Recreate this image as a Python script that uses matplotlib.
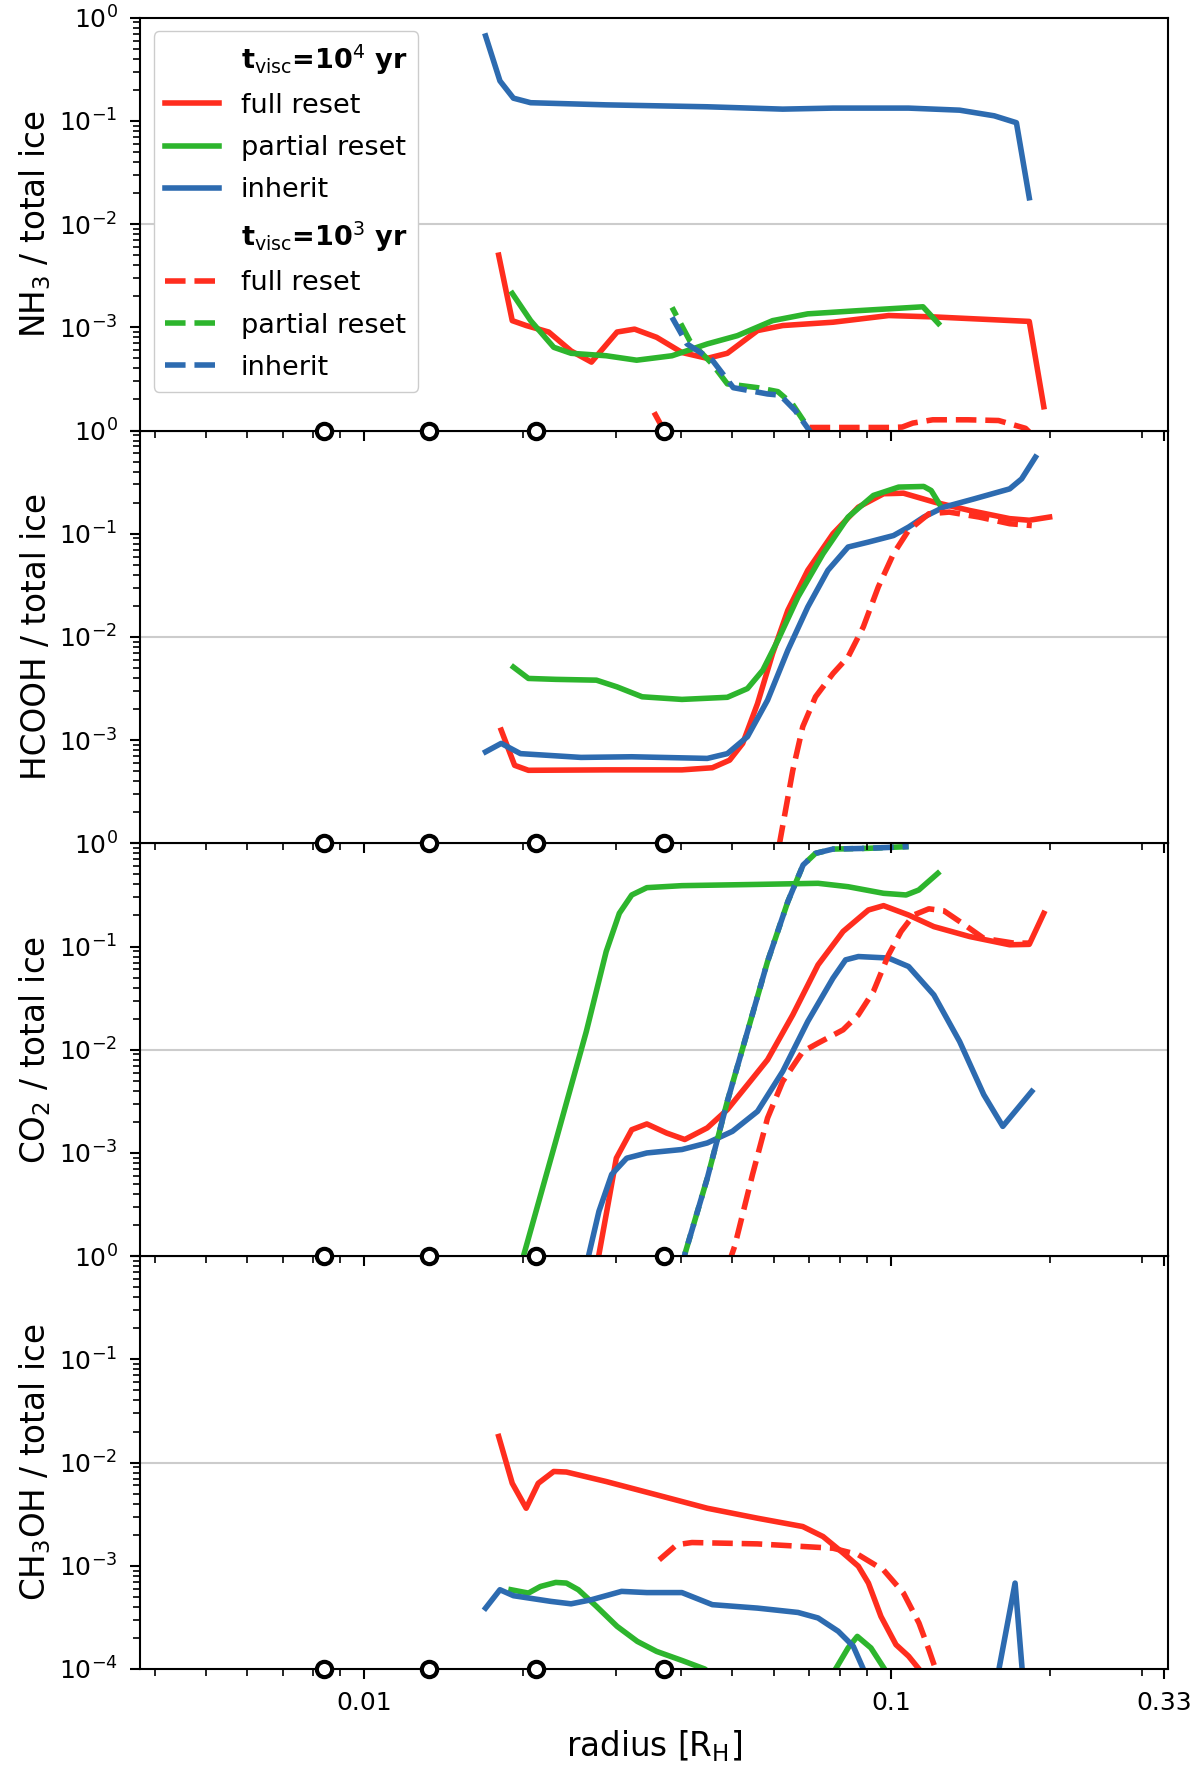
import numpy as np
import matplotlib
matplotlib.use("Agg")
import matplotlib.pyplot as plt
from matplotlib.lines import Line2D
from matplotlib.ticker import LogLocator, NullFormatter

# moon positions (radius in Hill radii)
moons_x = [0.0084, 0.0133, 0.0212, 0.0370]

# ---- NH3 ----
nh3_full_x = [0.0180, 0.0191, 0.0203, 0.0224, 0.0247, 0.0270, 0.0302, 0.0326, 0.0359, 0.0401,
              0.0448, 0.0489, 0.0558, 0.0623, 0.0776, 0.0990, 0.121, 0.183, 0.195]
nh3_full_y = [5.0e-3, 1.16e-3, 1.04e-3, 9.0e-4, 5.9e-4, 4.6e-4, 9.0e-4, 9.6e-4, 8.0e-4, 5.7e-4,
              5.0e-4, 5.6e-4, 9.3e-4, 1.04e-3, 1.12e-3, 1.30e-3, 1.26e-3, 1.14e-3, 1.7e-4]
nh3_part_x = [0.0191, 0.0207, 0.0229, 0.0247, 0.0288, 0.0329, 0.0384, 0.0448, 0.0511, 0.0596,
              0.0695, 0.0867, 0.115, 0.123]
nh3_part_y = [2.13e-3, 1.16e-3, 6.4e-4, 5.6e-4, 5.3e-4, 4.8e-4, 5.3e-4, 6.9e-4, 8.3e-4, 1.16e-3,
              1.35e-3, 1.45e-3, 1.58e-3, 1.09e-3]
nh3_inh_x = [0.0170, 0.0181, 0.0192, 0.0207, 0.0288, 0.0448, 0.0623, 0.0776, 0.108, 0.135,
             0.157, 0.173, 0.183]
nh3_inh_y = [0.665, 0.244, 0.166, 0.150, 0.143, 0.137, 0.130, 0.133, 0.133, 0.127,
             0.112, 0.096, 0.018]
nh3_full3_x = [0.0355, 0.0375, 0.050, 0.068, 0.0700, 0.080, 0.100, 0.105, 0.110, 0.120,
               0.140, 0.160, 0.180, 0.190]
nh3_full3_y = [1.5e-4, 9e-5, 3e-5, 8e-5, 1.07e-4, 1.07e-4, 1.07e-4, 1.08e-4, 1.18e-4, 1.27e-4,
               1.27e-4, 1.25e-4, 1.05e-4, 8e-5]
nh3_part3_x = [0.0384, 0.0415, 0.0458, 0.0489, 0.0558, 0.0610, 0.0650, 0.0695, 0.072]
nh3_part3_y = [1.56e-3, 7.4e-4, 4.4e-4, 2.83e-4, 2.6e-4, 2.38e-4, 1.8e-4, 1.08e-4, 7e-5]
nh3_inh3_x = [0.0384, 0.0410, 0.0458, 0.0502, 0.0583, 0.0616, 0.0658, 0.0700, 0.073]
nh3_inh3_y = [1.25e-3, 6.9e-4, 4.8e-4, 2.6e-4, 2.26e-4, 2.2e-4, 1.56e-4, 1.0e-4, 7e-5]

# ---- HCOOH ----
hcooh_full_x = [0.0182, 0.0193, 0.0205, 0.0288, 0.0401, 0.0458, 0.0494, 0.0523, 0.0558, 0.0596,
                0.0637, 0.0695, 0.0776, 0.0867, 0.0968, 0.1056, 0.121, 0.141, 0.168, 0.183, 0.200]
hcooh_full_y = [1.25e-3, 5.7e-4, 5.1e-4, 5.15e-4, 5.15e-4, 5.4e-4, 6.4e-4, 9.3e-4, 2.26e-3, 6.9e-3,
                1.81e-2, 4.42e-2, 0.100, 0.181, 0.244, 0.247, 0.202, 0.168, 0.140, 0.135, 0.145]
hcooh_part_x = [0.0192, 0.0205, 0.0231, 0.0276, 0.0302, 0.0337, 0.0401, 0.0489, 0.0534, 0.0571,
                0.0610, 0.0666, 0.0743, 0.0829, 0.0926, 0.1034, 0.1154, 0.1192, 0.1246]
hcooh_part_y = [5.1e-3, 3.96e-3, 3.88e-3, 3.81e-3, 3.28e-3, 2.63e-3, 2.48e-3, 2.6e-3, 3.16e-3, 4.76e-3,
                9.3e-3, 2.44e-2, 6.4e-2, 0.145, 0.235, 0.283, 0.287, 0.262, 0.181]
hcooh_inh_x = [0.0170, 0.0182, 0.0198, 0.0258, 0.0322, 0.0448, 0.0489, 0.0534, 0.0583, 0.0637,
               0.0695, 0.0759, 0.0829, 0.0906, 0.1011, 0.108, 0.1154, 0.126, 0.144, 0.168, 0.177, 0.188]
hcooh_inh_y = [7.7e-4, 9.3e-4, 7.4e-4, 6.8e-4, 6.9e-4, 6.65e-4, 7.4e-4, 1.08e-3, 2.44e-3, 7.43e-3,
               1.95e-2, 4.42e-2, 7.43e-2, 8.3e-2, 9.6e-2, 0.116, 0.145, 0.181, 0.218, 0.272, 0.34, 0.552]
hcooh_full3_x = [0.0600, 0.0616, 0.0651, 0.0680, 0.0719, 0.0776, 0.0829, 0.0886, 0.0946, 0.1011,
                 0.108, 0.118, 0.129, 0.147, 0.168, 0.185]
hcooh_full3_y = [5e-5, 1.08e-4, 5.1e-4, 1.35e-3, 2.63e-3, 4.42e-3, 6.4e-3, 1.25e-2, 3.05e-2, 6.4e-2,
                 0.108, 0.156, 0.162, 0.145, 0.125, 0.120]

# ---- CO2 ----
co2_full_x = [0.0275, 0.0279, 0.0291, 0.0301, 0.0322, 0.0344, 0.0375, 0.0406, 0.0448, 0.0489,
              0.0534, 0.0583, 0.0651, 0.0727, 0.0811, 0.0906, 0.0968, 0.108, 0.1206, 0.141,
              0.168, 0.183, 0.195]
co2_full_y = [6e-5, 1.04e-4, 3.4e-4, 8.9e-4, 1.68e-3, 1.91e-3, 1.56e-3, 1.35e-3, 1.75e-3, 2.63e-3,
              4.58e-3, 8.0e-3, 2.18e-2, 6.65e-2, 0.14, 0.226, 0.249, 0.202, 0.156, 0.125,
              0.104, 0.105, 0.21]
co2_part_x = [0.0195, 0.0201, 0.0231, 0.0264, 0.0288, 0.0305, 0.0322, 0.0344, 0.0401, 0.0558,
              0.0727, 0.0829, 0.0968, 0.1068, 0.1129, 0.1227]
co2_part_y = [5e-5, 1.04e-4, 1.3e-3, 1.5e-2, 8.95e-2, 0.21, 0.316, 0.372, 0.389, 0.40,
              0.41, 0.38, 0.328, 0.316, 0.353, 0.512]
co2_inh_x = [0.0262, 0.0267, 0.0279, 0.0295, 0.0315, 0.0344, 0.0401, 0.0448, 0.0500, 0.0558,
             0.0623, 0.0695, 0.0776, 0.0820, 0.0867, 0.0989, 0.108, 0.1206, 0.135, 0.150,
             0.163, 0.185]
co2_inh_y = [6e-5, 1.04e-4, 2.72e-4, 6.2e-4, 8.9e-4, 1.0e-3, 1.08e-3, 1.25e-3, 1.62e-3, 2.53e-3,
             6.17e-3, 1.88e-2, 4.94e-2, 7.43e-2, 8.0e-2, 7.74e-2, 6.4e-2, 3.4e-2, 1.2e-2, 3.67e-3,
             1.81e-3, 3.95e-3]
co2_full3_x = [0.0490, 0.0505, 0.0546, 0.0583, 0.0623, 0.0680, 0.0727, 0.0811, 0.0867, 0.0926,
               0.0989, 0.1045, 0.1104, 0.118, 0.126, 0.138, 0.150, 0.171, 0.183]
co2_full3_y = [8e-5, 1.25e-4, 6.2e-4, 2.18e-3, 4.94e-3, 9.6e-3, 1.16e-2, 1.56e-2, 2.18e-2, 3.67e-2,
               8.3e-2, 0.14, 0.202, 0.232, 0.222, 0.162, 0.12, 0.108, 0.108]
co2_part3_x = [0.0400, 0.0406, 0.0448, 0.0489, 0.0534, 0.0583, 0.0637, 0.0681, 0.0719, 0.0776,
               0.0906, 0.108]
co2_part3_y = [7e-5, 1.04e-4, 5.7e-4, 3.16e-3, 1.5e-2, 7.16e-2, 0.272, 0.617, 0.80, 0.88,
               0.895, 0.93]
co2_inh3_x = co2_part3_x
co2_inh3_y = co2_part3_y

# ---- CH3OH ----
ch3oh_full_x = [0.0180, 0.0191, 0.0203, 0.0214, 0.0229, 0.0242, 0.0288, 0.0359, 0.0448, 0.0558,
                0.0680, 0.0743, 0.0811, 0.0867, 0.0906, 0.0957, 0.1022, 0.108, 0.113, 0.118]
ch3oh_full_y = [1.79e-2, 6.3e-3, 3.61e-3, 6.3e-3, 8.2e-3, 8.1e-3, 6.55e-3, 4.87e-3, 3.61e-3, 2.89e-3,
                2.4e-3, 1.92e-3, 1.33e-3, 9.9e-4, 6.8e-4, 3.23e-4, 1.72e-4, 1.33e-4, 1.0e-4, 7e-5]
ch3oh_part_x = [0.0190, 0.0205, 0.0216, 0.0231, 0.0242, 0.0255, 0.0276, 0.0302, 0.0330, 0.0359,
                0.0401, 0.0443, 0.050, 0.060, 0.072, 0.0785, 0.0829, 0.0863, 0.0916, 0.0972, 0.099]
ch3oh_part_y = [5.86e-4, 5.44e-4, 6.3e-4, 6.9e-4, 6.8e-4, 5.86e-4, 4.04e-4, 2.59e-4, 1.85e-4, 1.48e-4,
                1.21e-4, 1.0e-4, 6e-5, 5e-5, 6e-5, 1.0e-4, 1.6e-4, 2.07e-4, 1.6e-4, 1.0e-4, 8e-5]
ch3oh_inh_x = [0.0170, 0.0181, 0.0192, 0.0226, 0.0247, 0.0270, 0.0308, 0.0344, 0.0401, 0.0458,
               0.0558, 0.0666, 0.0727, 0.0794, 0.0848, 0.0886, 0.095, 0.150, 0.155, 0.172, 0.180]
ch3oh_inh_y = [3.89e-4, 5.86e-4, 5.13e-4, 4.52e-4, 4.28e-4, 4.69e-4, 5.65e-4, 5.5e-4, 5.5e-4, 4.2e-4,
               3.89e-4, 3.53e-4, 3.12e-4, 2.32e-4, 1.66e-4, 1.0e-4, 5e-5, 4e-5, 4e-5, 6.8e-4, 4e-5]
ch3oh_full3_x = [0.0363, 0.0392, 0.0419, 0.0558, 0.0776, 0.0867, 0.0968, 0.1056, 0.113, 0.118,
                 0.121, 0.123]
ch3oh_full3_y = [1.14e-3, 1.6e-3, 1.68e-3, 1.63e-3, 1.48e-3, 1.28e-3, 9.1e-4, 5.44e-4, 2.79e-4, 1.54e-4,
                 1.06e-4, 8e-5]

ylabels = ["NH$_3$ / total ice", "HCOOH / total ice", "CO$_2$ / total ice", "CH$_3$OH / total ice"]

red = "#ff2d1e"
green = "#2db52d"
blue = "#2d6bb0"
lw = 4
dash_g = (2.0, (3.7, 1.6))  # green dashes shifted so it peeks out under blue

plt.rcParams["xtick.labelsize"] = 18
plt.rcParams["ytick.labelsize"] = 18

fig, axes = plt.subplots(4, 1, figsize=(12, 17.68), dpi=100, sharex=True)
fig.subplots_adjust(left=0.117, right=0.973, top=0.990, bottom=0.056, hspace=0)

panels = [
    [(nh3_full_x, nh3_full_y, red, "-"), (nh3_part_x, nh3_part_y, green, "-"), (nh3_inh_x, nh3_inh_y, blue, "-"),
     (nh3_full3_x, nh3_full3_y, red, "--"), (nh3_part3_x, nh3_part3_y, green, dash_g), (nh3_inh3_x, nh3_inh3_y, blue, "--")],
    [(hcooh_full_x, hcooh_full_y, red, "-"), (hcooh_part_x, hcooh_part_y, green, "-"), (hcooh_inh_x, hcooh_inh_y, blue, "-"),
     (hcooh_full3_x, hcooh_full3_y, red, "--")],
    [(co2_full_x, co2_full_y, red, "-"), (co2_part_x, co2_part_y, green, "-"), (co2_inh_x, co2_inh_y, blue, "-"),
     (co2_full3_x, co2_full3_y, red, "--"), (co2_part3_x, co2_part3_y, green, dash_g), (co2_inh3_x, co2_inh3_y, blue, "--")],
    [(ch3oh_full_x, ch3oh_full_y, red, "-"), (ch3oh_part_x, ch3oh_part_y, green, "-"), (ch3oh_inh_x, ch3oh_inh_y, blue, "-"),
     (ch3oh_full3_x, ch3oh_full3_y, red, "--")],
]

for i, ax in enumerate(axes):
    ax.set_zorder(10 - i)  # upper panels on top so the moon markers are not cut
    ax.axhline(1e-2, color="#cccccc", lw=1.5, zorder=0)
    for x, y, c, ls in panels[i]:
        ax.plot(x, y, color=c, ls=ls, lw=lw)
    ax.plot(moons_x, [1e-4] * len(moons_x), "o", ms=11, mfc="white", mec="black", mew=3,
            clip_on=False, zorder=10)
    ax.set_xscale("log")
    ax.set_yscale("log")
    ax.set_xlim(0.00376, 0.335)
    ax.set_ylim(1e-4, 1)
    ax.yaxis.set_major_locator(LogLocator(base=10, numticks=10))
    ax.yaxis.set_minor_locator(LogLocator(base=10, subs=np.arange(2, 10), numticks=10))
    ax.yaxis.set_minor_formatter(NullFormatter())
    ax.set_ylabel(ylabels[i], fontsize=23.5)
    ax.tick_params(which="major", length=7.5, width=1.5)
    ax.tick_params(which="minor", length=5, width=1.2)
    ax.tick_params(axis="y", which="major", pad=9)
    ax.tick_params(axis="x", which="major", pad=8)
    for s in ax.spines.values():
        s.set_linewidth(1.5)

ax = axes[-1]
ax.set_xticks([0.01, 0.1, 0.33])
ax.set_xticklabels(["0.01", "0.1", "0.33"])
ax.xaxis.set_minor_formatter(NullFormatter())
ax.set_xlabel("radius [R$_\\mathrm{H}$]", fontsize=23.5, labelpad=10)

# hide 10^-4 labels of upper panels (the 10^0 of the panel below sits there)
fig.canvas.draw()
for a in axes[:3]:
    for lab in a.get_yticklabels():
        if "-4" in lab.get_text():
            lab.set_visible(False)

blank = Line2D([], [], color="none")
handles = [blank,
           Line2D([], [], color=red, lw=lw), Line2D([], [], color=green, lw=lw), Line2D([], [], color=blue, lw=lw),
           blank,
           Line2D([], [], color=red, lw=lw, ls="--"), Line2D([], [], color=green, lw=lw, ls="--"),
           Line2D([], [], color=blue, lw=lw, ls="--")]
labels = ["t$_{\\rm visc}$=10$^4$ yr", "full reset", "partial reset", "inherit",
          "t$_{\\rm visc}$=10$^3$ yr", "full reset", "partial reset", "inherit"]
leg = axes[0].legend(handles, labels, loc="upper left", fontsize=19.5, framealpha=1, labelspacing=0.6)
for k in (0, 4):
    leg.get_texts()[k].set_fontweight("bold")

fig.savefig("out.png", dpi=100)
